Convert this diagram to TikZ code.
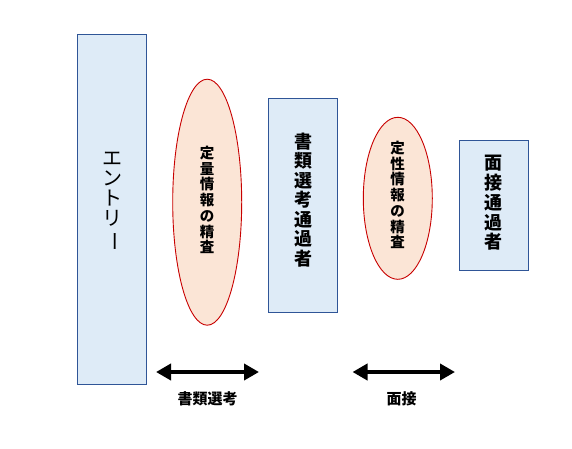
\documentclass[tikz,border=0pt]{standalone}
\usepackage{fontspec}
\newfontfamily\cjk{Noto Sans CJK JP}
\usetikzlibrary{arrows.meta}
\definecolor{boxfill}{HTML}{DEEBF7}
\definecolor{boxline}{HTML}{2F5597}
\definecolor{ellfill}{HTML}{FBE5D6}
\definecolor{ellline}{HTML}{C80000}
\tikzset{
  stagebox/.style={draw=boxline, fill=boxfill, line width=0.9pt, inner sep=0pt},
  checkell/.style={draw=ellline, fill=ellfill, line width=0.9pt, ellipse, inner sep=0pt},
  vlabel/.style={align=center, inner sep=0pt, text=black},
  dblarrow/.style={line width=4pt, {Triangle[length=15pt,width=16pt]}-{Triangle[length=15pt,width=16pt]}},
  steplabel/.style={font=\cjk\bfseries\fontsize{15}{15}\selectfont, inner sep=0pt}
}
\begin{document}
\begin{tikzpicture}[x=1pt,y=-1pt]
\useasboundingbox (0,0) rectangle (572,448);
% boxes
\node[stagebox, minimum width=69pt, minimum height=350pt] (entry) at (111.5,209) {};
\node[stagebox, minimum width=69pt, minimum height=214pt] (doc) at (303,205.3) {};
\node[stagebox, minimum width=69pt, minimum height=130pt] (intv) at (494,205.5) {};
% ellipses
\draw[draw=ellline, fill=ellfill, line width=0.9pt] (207.2,202.2) ellipse [x radius=34.5, y radius=123];
\draw[draw=ellline, fill=ellfill, line width=0.9pt] (397.8,198.3) ellipse [x radius=34.5, y radius=81];
% vertical texts
\node[vlabel, font=\cjk\fontsize{20}{20}\selectfont] (entryt) at (112,202) {エ\\ン\\ト\\リ\\\rotatebox[origin=c]{-90}{ー}};
\node[vlabel, font=\cjk\bfseries\fontsize{14.5}{15.7}\selectfont] (quant) at (207,200) {定\\量\\情\\報\\の\\精\\査};
\node[vlabel, font=\cjk\bfseries\fontsize{18}{19.5}\selectfont] (doct) at (303,200) {書\\類\\選\\考\\通\\過\\者};
\node[vlabel, font=\cjk\bfseries\fontsize{14.5}{15.7}\selectfont] (qual) at (397.5,195) {定\\性\\情\\報\\の\\精\\査};
\node[vlabel, font=\cjk\bfseries\fontsize{18}{19.8}\selectfont] (intvt) at (493,203) {面\\接\\通\\過\\者};
% arrows
\coordinate (a1l) at (156,372);
\coordinate (a1r) at (259,372);
\coordinate (a2l) at (352.5,372);
\coordinate (a2r) at (455,372);
\draw[dblarrow] (a1l) -- (a1r);
\draw[dblarrow] (a2l) -- (a2r);
\node[steplabel] (lab1) at (207.5,398.5) {書類選考};
\node[steplabel] (lab2) at (401.5,398.5) {面接};
\end{tikzpicture}
\end{document}
